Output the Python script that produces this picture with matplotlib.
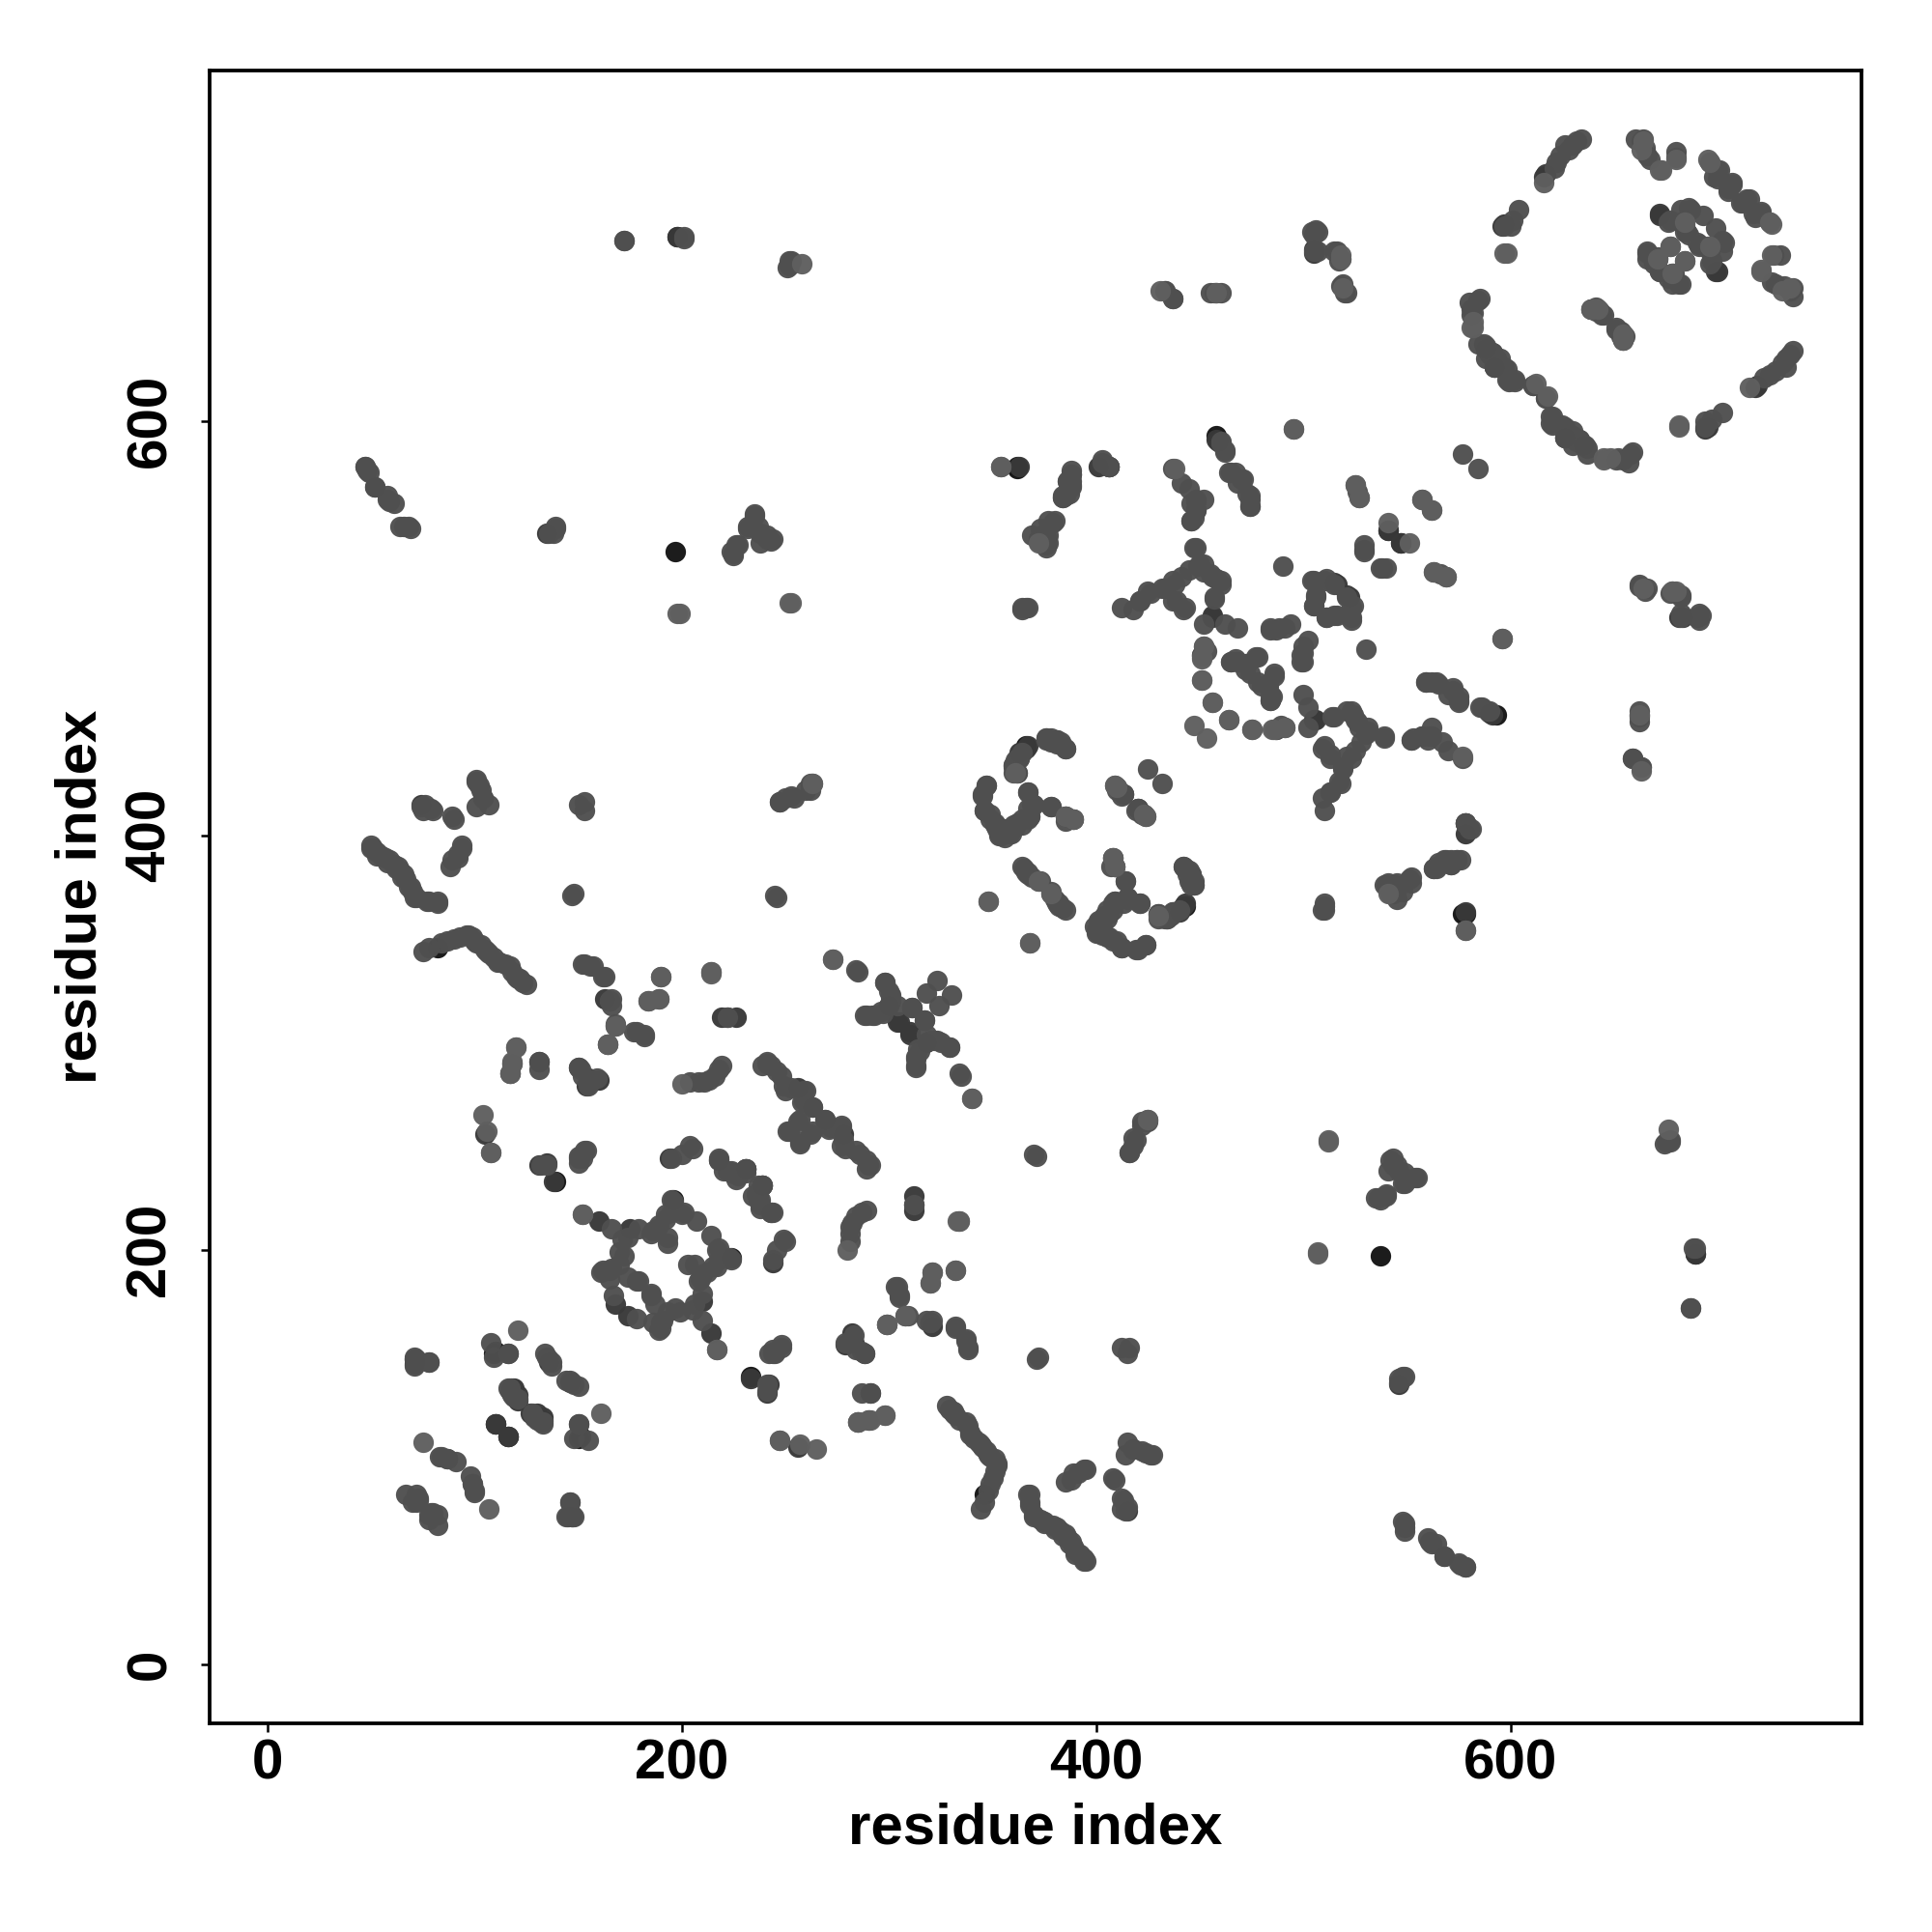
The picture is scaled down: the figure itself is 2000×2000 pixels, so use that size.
import matplotlib
matplotlib.use("Agg")
import matplotlib.pyplot as plt

# contacts are (i, j) residue pairs with i < j, the map is symmetric
black_contacts = [
    (197,537),(196,224),(139,233),(110,151),(82,346),(458,593),(362,577),(198,689),(362,578),
    (366,443),(109,150),(541,547),
]

dark_contacts = [
    (71,145),(71,147),(110,116),(110,116),(116,110),(127,121),(129,119),(118,133),(117,132),
    (121,130),(119,133),(131,291),(135,242),(131,241),(160,214),(175,210),(168,174),(163,321),
    (218,243),(222,312),(219,312),(226,312),(231,239),(194,244),(256,278),(263,269),(300,318),
    (304,310),(305,310),(458,591),(459,590),(401,578),(505,683),(505,681),(541,547),(515,522),
    (516,521),(456,505),(506,456),(672,700),(685,691),(671,678),(672,699),(617,719),(596,694),
    (366,442),(363,440),(413,420),(451,487),(689,198),(415,74),(233,138),(568,52),(546,135),
    (116,150),(150,288),(154,279),(155,283),(160,282),(136,146),(105,256),(578,363),(367,443),
    (588,635),(592,626),(718,616),(695,597),
]

mid_contacts = [
    # top right ring
    (634,736),(630,733),(626,733),(624,728),(622,725),(621,722),(660,736),(664,736),(665,732),
    (666,728),(680,727),(680,730),(696,725),(700,721),(698,718),(707,714),(705,711),(715,707),
    (712,705),(717,700),(721,701),(632,735),(628,731),(663,735),(667,726),
    (584,658),(582,652),(585,659),(589,634),(587,637),(593,630),(595,626),(592,626),(597,626),
    (599,619),(602,619),(604,702),(601,697),(600,694),(597,694),(611,617),(617,611),
    (581,651),(581,654),(580,657),(588,635),(590,632),(591,633),(598,620),(592,627),
    (588,636),(625,598),(630,595),(633,591),(635,588),(620,602),(626,592),(584,637),(588,630),
    # inner cluster of the ring
    (676,696),(686,703),(693,699),(684,695),(677,684),(666,681),(666,678),(669,676),(682,696),
    (677,697),(682,702),(687,702),(671,679),(672,672),(666,682),(684,691),(686,690),
    (641,655),(643,653),(645,651),(642,654),(639,654),(644,651),(641,653),
    # right hand islands
    (506,692),(516,682),(518,678),(519,666),(521,662),(505,690),(507,682),(437,659),(433,663),
    (495,596),(577,584),(403,581),(406,578),(388,574),(388,568),(385,564),(386,571),(525,569),
    (527,563),(526,566),(437,577),(441,570),(445,567),(448,562),(448,557),(446,552),(446,560),
    (460,590),(462,586),(464,575),(467,575),(468,570),(471,572),(473,565),(474,559),(474,562),
    (447,539),(460,523),(457,515),(452,531),(449,530),(445,528),(441,525),(437,523),(433,519),
    (425,518),(421,513),(418,509),(412,510),(442,509),(437,513),(455,526),(458,524),(452,502),
    (462,502),(468,500),(452,491),(451,487),(453,489),(468,484),(465,484),(472,483),(478,486),
    (474,478),(472,480),(477,486),(473,483),(467,485),(465,484),(490,530),(484,500),(488,500),
    (494,502),(491,500),(487,499),(484,499),(504,523),(510,523),(506,516),(505,511),(505,511),
    (506,515),(505,523),(511,524),(515,521),(557,562),(529,538),(529,540),(529,537),(474,559),
    (474,564),(470,572),(465,575),(462,585),(460,589),(447,553),(448,557),(452,562),(448,561),
    (446,552),(457,514),(460,521),(456,525),(452,527),(450,531),(448,539),(443,510),(439,513),
    (438,521),(432,519),(426,517),(421,513),(425,432),(410,422),(413,420),(412,419),(410,423),
    (406,578),(377,541),(377,545),(376,539),(380,552),(384,563),(387,565),(388,569),
    (403,580),(406,578),(578,406),(354,578),(364,509),(367,510),(369,545),(373,548),(377,552),
    (376,540),(372,543),(384,564),(386,571),(388,574),(374,545),
    # block near the diagonal, 340 to 450
    (364,440),(361,436),(360,433),(360,430),(376,446),(378,445),(384,443),(381,444),(385,442),
    (381,446),(376,447),(363,437),(362,437),(360,434),(362,430),
    (347,424),(345,419),(346,412),(349,408),(353,401),(355,403),(360,405),(364,408),(367,413),
    (367,421),(370,415),(351,405),(352,403),(358,401),(354,400),(362,406),(368,409),(369,415),
    (378,414),(385,409),(389,408),(385,407),(409,424),(423,410),(420,413),
    (364,385),(367,381),(372,378),(365,384),(366,382),(373,378),(369,380),(367,382),
    (408,389),(409,385),(414,378),(421,367),(415,370),(409,368),(405,364),(401,359),(400,353),
    (406,351),(412,346),(420,345),(424,347),(404,361),(408,367),(403,355),(399,356),(410,349),
    (442,385),(446,381),(447,376),(437,363),(434,360),(430,362),(447,378),(445,383),
    # middle region
    (323,330),(318,324),(298,329),(301,323),(304,318),(311,317),(317,311),(288,313),(292,313),
    (296,315),(301,320),(300,325),(298,329),(293,313),(289,313),(297,314),(301,322),(284,335),
    (241,291),(239,289),(246,286),(249,279),(253,278),(259,277),(259,272),(263,269),(258,271),
    (260,277),(250,277),(248,284),(243,289),(241,290),(257,263),(252,257),(257,251),(256,262),
    (231,239),(225,237),(231,239),(224,237),(205,249),(200,246),(195,244),(195,224),(204,250),
    (219,289),(216,284),(211,281),(204,281),(218,287),(213,282),(208,281),(189,321),(184,320),
    (190,332),(162,332),(165,320),(166,321),(168,309),(177,305),(182,303),(182,304),(178,305),
    (168,308),(166,318),(163,332),(157,337),(152,338),(153,338),(156,337),(165,320),
    (154,248),(152,244),(150,242),(159,283),(155,279),(151,287),(135,241),(132,241),(131,287),
    (131,291),(117,285),(118,290),(150,244),(151,245),(153,248),(150,288),(152,284),
    (123,329),(120,332),(117,337),(111,339),(107,343),(103,347),(97,352),(90,350),(84,348),
    (75,344),(78,346),(122,331),(118,334),(112,339),(106,344),(100,349),(96,352),
    (125,328),(121,331),(115,338),(109,341),(105,345),(101,348),(99,351),(93,351),(87,349),
    (218,244),(222,238),(231,239),(227,236),(237,231),(238,220),(243,218),(245,150),(238,224),
    (234,226),(228,237),(223,196),(195,218),(192,215),(188,210),(185,208),(193,203),
    (192,217),(189,212),(186,209),(193,206),(200,217),(207,214),(201,218),(166,210),(179,210),
    (171,205),(170,199),(170,193),(165,190),(161,189),(165,186),(174,187),(179,185),(178,185),
    (167,178),(172,197),(174,206),(166,191),(162,190),
    (108,155),(109,148),(116,150),(134,150),(137,146),(135,148),(137,144),(136,147),
    (116,133),(117,133),(119,129),(121,128),(118,130),
    (71,148),(78,146),(83,100),(87,99),(91,98),(87,99),(84,100),(67,82),(72,82),(72,78),(73,80),
    (73,79),(70,78),(146,78),(144,71),(147,71),(147,72),
    # far left chains
    (50,395),(53,392),(57,389),(61,386),(64,383),(67,379),(69,375),(72,370),(77,368),(82,367),
    (51,394),(55,390),(59,388),(63,385),(66,381),(70,373),
    (74,414),(79,413),(90,408),(94,395),(92,389),(88,385),(101,426),(103,422),(107,415),(104,418),
    (47,578),(49,575),(52,568),(58,562),(61,560),(66,549),(69,548),(136,546),(139,548),
    (148,372),(150,415),(246,370),(247,416),(254,418),(262,425),(260,422),(225,535),(227,540),
    (232,548),(235,554),(238,541),(244,543),(241,545),(237,549),(172,687),(201,688),(252,675),
    (253,677),(222,312),(285,334),
    (371,245),(371,147),(416,153),(412,153),(416,247),(419,253),(425,263),(418,250),(422,262),
    (414,101),(418,104),(424,102),(427,101),(388,89),(394,94),(391,92),(409,89),(412,80),(412,75),
    (415,76),(368,82),(368,78),(370,71),(375,68),(380,65),(384,62),(387,58),(390,53),(394,50),
    (536,225),(540,226),(543,241),(546,238),(555,235),(549,232),(542,243),(537,224),
    (549,68),(549,64),(561,59),(564,58),(546,138),(549,139),(576,48),(578,47),
    (662,520),(665,518),(677,517),(682,515),(682,505),(691,507),(691,504),(662,458),(662,455),
    (659,437),(663,433),(674,251),(677,252),(689,201),(687,172),
    (457,662),(460,662),(563,384),(576,388),(571,388),(551,379),(542,372),(544,376),(510,366),
    (510,364),
]

light_contacts = [
    (616,715),(673,721),(726,695),(680,726),(672,721),(597,681),(582,645),(582,648),(645,581),
    (598,681),(612,618),(725,696),(663,731),(664,735),
    (639,654),(654,639),(654,642),(518,680),(458,662),(519,664),(518,678),(684,677),(678,671),
    (451,475),(456,464),(447,453),(464,456),(475,451),(486,451),(491,452),(485,451),
    (348,368),(368,348),(214,334),(190,332),(184,320),(189,321),(164,299),(120,298),(118,291),
    (117,285),(108,247),(152,217),(121,161),(75,107),(200,280),(214,333),(198,507),(252,512),
    (217,152),(164,299),(273,340),(340,273),(334,214),(299,164),(308,168),(290,118),(298,120),
    (285,117),(247,108),(257,106),(265,104),(507,199),(512,253),(676,258),(578,354),(541,372),
    (541,551),(557,562),(525,569),(527,563),(389,408),(385,409),(361,430),(378,372),(684,696),
    (425,263),(409,424),(423,410),(577,438),(596,495),(663,431),
]

fig = plt.figure(figsize=(2000/300, 2000/300), dpi=300)
plt.rcParams['font.family'] = ['Liberation Sans', 'DejaVu Sans']
ax = fig.add_axes([216.7/2000, 1-1783.7/2000, 1710.3/2000, 1711/2000])

# darkest first, the lighter discs sit on top in the reference
for contacts, shade in [(black_contacts, '#141414'), (dark_contacts, '#393939'),
                        (mid_contacts, '#4f4f4f'), (light_contacts, '#5f5f5f')]:
    i = [c[0] for c in contacts]
    j = [c[1] for c in contacts]
    ax.scatter(i + j, j + i, s=26, color=shade, alpha=0.97, linewidths=0, zorder=3)

ax.set_xlim(-28, 769.3)
ax.set_ylim(-28.4, 769.2)
ax.set_xticks([0, 200, 400, 600])
ax.set_yticks([0, 200, 400, 600])
ax.tick_params(axis='x', length=2.2, width=0.6, pad=1.6)
ax.tick_params(axis='y', length=2.2, width=0.6, pad=5.9)
for lab in ax.get_xticklabels():
    lab.set_fontsize(14)
    lab.set_fontweight('bold')
for lab in ax.get_yticklabels():
    lab.set_fontsize(14)
    lab.set_fontweight('bold')
    lab.set_rotation(90)
    lab.set_va('center')
for s in ax.spines.values():
    s.set_linewidth(0.9)
ax.set_xlabel('residue index', fontsize=14.4, fontweight='bold')
ax.set_ylabel('residue index', fontsize=14.4, fontweight='bold')
ax.xaxis.set_label_coords(0.5, -0.048)
ax.yaxis.set_label_coords(-0.0613, 0.5)

plt.savefig('out.png', dpi=300)
plt.close()
